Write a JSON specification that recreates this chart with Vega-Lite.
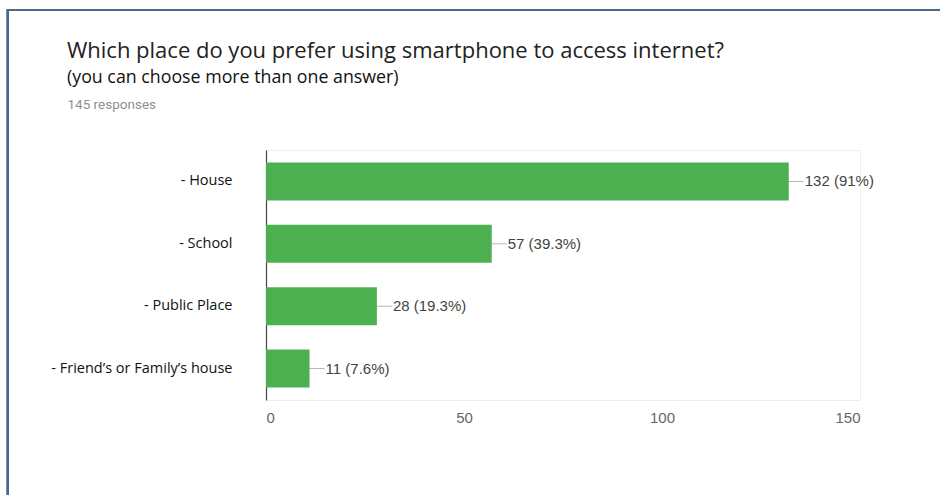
{
  "$schema": "https://vega.github.io/schema/vega-lite/v6.json",
  "width": 594,
  "height": 250,
  "autosize": "none",
  "padding": {"left": 266, "top": 150, "right": 80, "bottom": 95},
  "background": "white",
  "config": {"view": {"stroke": "#eeeeee"}},
  "title": {
    "text": "Which place do you prefer using smartphone to access internet?",
    "subtitle": "(you can choose more than one answer)",
    "anchor": "start",
    "frame": "group",
    "dx": -199,
    "dy": 79,
    "offset": 0,
    "font": "Open Sans",
    "fontSize": 22,
    "fontWeight": "normal",
    "color": "#222222",
    "subtitleFont": "Open Sans",
    "subtitleFontSize": 17.8,
    "subtitleColor": "#111111",
    "subtitlePadding": 6
  },
  "data": {
    "values": [
      {"place": "- House", "count": 132, "label": "132 (91%)"},
      {"place": "- School", "count": 57, "label": "57 (39.3%)"},
      {"place": "- Public Place", "count": 28, "label": "28 (19.3%)"},
      {"place": "- Friend’s or Family’s house", "count": 11, "label": "11 (7.6%)"}
    ]
  },
  "layer": [
    {
      "mark": {"type": "rect", "filled": false, "stroke": "#4a6a8a", "strokeWidth": 2.2, "clip": false},
      "encoding": {
        "x": {"datum": -65.2, "type": "quantitative", "scale": {"domain": [0, 150], "nice": false}},
        "x2": {"datum": 185},
        "y": {"datum": 1.56, "type": "quantitative", "scale": {"domain": [0, 1], "nice": false, "zero": false}, "axis": null},
        "y2": {"datum": -0.6}
      }
    },
    {
      "encoding": {
        "y": {
          "field": "place",
          "type": "nominal",
          "sort": null,
          "scale": {"paddingInner": 0.39, "paddingOuter": 0.2},
          "axis": {
            "title": "145 responses",
            "titleAngle": 0,
            "titleAlign": "left",
            "titleBaseline": "alphabetic",
            "titleX": -199,
            "titleY": -42,
            "titleFont": "Roboto",
            "titleFontSize": 13.5,
            "titleFontWeight": "normal",
            "titleColor": "#8f8f8f",
            "labelFont": "Open Sans",
            "labelFontSize": 14.5,
            "labelColor": "#111111",
            "labelPadding": 34,
            "labelLimit": 400,
            "ticks": false,
            "domainColor": "#444444",
            "domainWidth": 1.2
          }
        }
      },
      "layer": [
        {
          "mark": {"type": "tick", "orient": "horizontal", "size": 30, "thickness": 1, "color": "#999999"},
          "encoding": {
            "x": {
              "field": "count",
              "type": "quantitative",
              "scale": {"domain": [0, 150], "nice": false},
              "axis": {
                "title": null,
                "values": [0, 25, 50, 75, 100, 125, 150],
                "labelExpr": "datum.value % 50 == 0 ? datum.label : ''",
                "labelFont": "Liberation Sans",
                "labelFontSize": 15,
                "labelColor": "#666666",
                "labelPadding": 10,
                "ticks": false,
                "domain": false,
                "gridColor": "#eeeeee"
              }
            }
          }
        },
        {
          "mark": {"type": "bar", "color": "#4CAF50"},
          "encoding": {"x": {"field": "count", "type": "quantitative"}}
        },
        {
          "mark": {"type": "text", "align": "left", "baseline": "middle", "dx": 16, "font": "Liberation Sans", "fontSize": 15, "color": "#444444"},
          "encoding": {
            "x": {"field": "count", "type": "quantitative"},
            "text": {"field": "label"}
          }
        }
      ]
    }
  ],
  "resolve": {"scale": {"y": "independent"}}
}
